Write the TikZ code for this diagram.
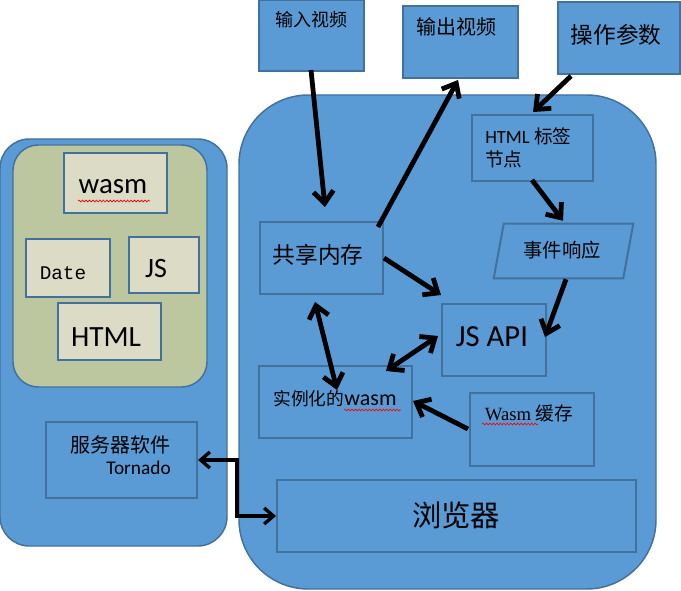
\documentclass[tikz,border=0pt]{standalone}
\usepackage{fontspec}
\setmainfont{Carlito}
\newfontfamily\cjk{Noto Sans CJK SC}
\newfontfamily\tnr{Liberation Serif}
\newfontfamily\monoL{Liberation Mono}
\usetikzlibrary{arrows.meta,calc,fit,decorations.pathmorphing}
\definecolor{blueF}{HTML}{5B9BD5}
\definecolor{boxB}{HTML}{41719C}
\definecolor{oliveF}{HTML}{BDC79F}
\definecolor{beigeF}{HTML}{DCDBC6}
\newcommand{\fs}[1]{\fontsize{#1}{#1}\selectfont}
\begin{document}
\begin{tikzpicture}[x=0.75pt,y=-0.75pt,
  panel/.style={draw=boxB, fill=blueF, line width=1.1pt, inner sep=0pt},
  box/.style={draw=boxB, fill=blueF, line width=1.5pt, inner sep=0pt},
  lbox/.style={draw=boxB, fill=beigeF, line width=1.5pt, inner sep=0pt},
  boxline/.style={draw=boxB, fill=blueF, line width=1.5pt},
  txt/.style={inner sep=0pt, text=black},
  arr/.style={line width=3.6pt, -{Straight Barb[length=9pt,width=15pt]}},
  darr/.style={line width=3.6pt, {Straight Barb[length=9pt,width=15pt]}-{Straight Barb[length=9pt,width=15pt]}},
  tarr/.style={line width=2.5pt, {Straight Barb[length=7pt,width=12pt]}-{Straight Barb[length=7pt,width=12pt]}},
  wavy/.style={draw=red, line width=0.5pt, decorate, decoration={snake, amplitude=0.7pt, segment length=2.6pt}}
]
\useasboundingbox (0,0) rectangle (681,591);
\fill[white] (0,0) rectangle (681,591);

% ---------- left panel ----------
\node[panel, rounded corners=22pt, fit={(0,139) (227,546)}] (left) {};
\node[draw=boxB, fill=oliveF, line width=1.1pt, inner sep=0pt, rounded corners=19pt, fit={(13,145) (207,387)}] (olive) {};
\node[lbox, fit={(64,153) (167,213)}] (wasmB) {};
\node[lbox, fit={(26,239) (110,297)}] (dateB) {};
\node[lbox, fit={(129,237) (199,293)}] (jsB) {};
\node[lbox, fit={(58,303) (161,360)}] (htmlB) {};
\node[txt] (wasmT) at (113,187) {\fs{21.7}wasm};
\draw[wavy] (78,201) -- (150,201);
\node[txt] (dateT) at (63,273) {\monoL\fs{14.5}Date};
\node[txt] (jsT) at (156,269) {\fs{21}JS};
\node[txt] (htmlT) at (106,337) {\fs{22}HTML};
\node[box, fit={(46,422) (197,498)}] (tor) {};
\node[txt, align=right, anchor=east] (torT) at (171,455) {{\cjk\fs{15}服务器软件}\\[4pt]{\fs{14.5}Tornado}};

% ---------- right panel ----------
\node[panel, rounded corners=52pt, fit={(239,95) (656,589)}] (right) {};
\node[box, fit={(472,115) (593,181)}] (html) {};
\node[txt, align=left, anchor=west] (htmlT2) at (485,148) {{\fs{14}HTML }{\cjk\fs{14}标签}\\[3pt]{\cjk\fs{14}节点}};
\node[inner sep=0pt, fit={(494,224) (633,278)}] (ev) {};
\draw[boxline] ($(ev.north west)+(10,0)$) -- (ev.north east) -- ($(ev.south east)+(-10,0)$) -- (ev.south west) -- cycle;
\node[txt] (evT) at (562,250) {\cjk\fs{14.5}事件响应};
\node[box, fit={(260,222) (383,294)}] (sh) {};
\node[txt] (shT) at (318,255) {\cjk\fs{17}共享内存};
\node[box, fit={(442,304) (546,376)}] (js) {};
\node[txt] (jsT2) at (492,337) {\fs{23}JS API};
\node[box, fit={(259,366) (412,438)}] (inst) {};
\node[txt] (instT) at (335,399) {{\cjk\fs{13.3}实例化的}{\fs{16.5}wasm}};
\draw[wavy] (344,410) -- (401,410);
\node[box, fit={(470,393) (594,466)}] (cache) {};
\node[txt] (cacheT) at (529,413) {{\tnr\fs{14}Wasm }{\cjk\fs{14}缓存}};
\draw[wavy] (482,424) -- (538,424);
\node[box, fit={(277,480) (636,552)}] (br) {};
\node[txt] (brT) at (456,515) {\cjk\fs{22}浏览器};

% ---------- top boxes ----------
\node[box, fit={(259,0) (364,71)}] (in) {};
\node[txt] (inT) at (311,20) {\cjk\fs{13.5}输入视频};
\node[box, fit={(403,6) (518,78)}] (out) {};
\node[txt] (outT) at (456,27) {\cjk\fs{15}输出视频};
\node[box, fit={(558,2) (680,74)}] (op) {};
\node[txt] (opT) at (616,35) {\cjk\fs{17}操作参数};

% ---------- connectors ----------
\draw[arr] ($(in.south)+(-0.5,-2)$) -- ($(sh.north)+(3.5,-14)$);
\draw[arr] ($(sh.north east)+(-6,6)$) -- ($(out.south)+(-2.5,1)$);
\draw[arr] ($(op.south west)+(14,1)$) -- ($(html.north)+(0.5,-2)$);
\draw[arr] ($(html.south)+(-0.5,-2)$) -- ($(ev.north)+(-0.5,-3)$);
\draw[arr] ($(ev.south)+(2.5,1)$) -- ($(js.east)+(-2,-3)$);
\draw[arr] (sh.east) -- ($(js.north west)+(0,-8)$);
\draw[darr] ($(sh.south)+(-6.5,7)$) -- ($(inst.north)+(1.5,25)$);
\draw[darr] ($(inst.north)+(50.5,6)$) -- ($(js.west)+(-3,-4)$);
\draw[arr] ($(cache.west)+(-1,-0.5)$) -- ($(inst.east)+(0,-1)$);
\draw[tarr] (tor.east) -- ++(39,0) |- (br.west);
\end{tikzpicture}
\end{document}
